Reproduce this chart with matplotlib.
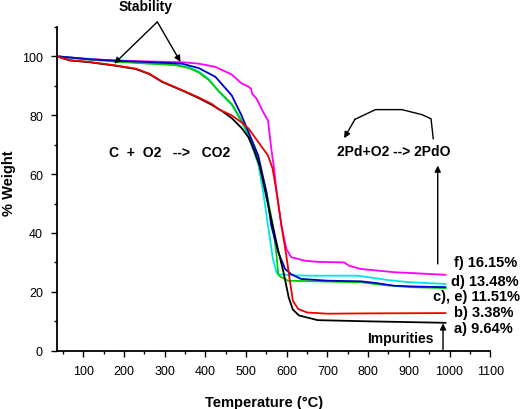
import matplotlib
matplotlib.use("Agg")
import matplotlib.pyplot as plt
from matplotlib.ticker import MultipleLocator

plt.rcParams['font.family'] = ['Liberation Sans', 'DejaVu Sans']

# ---- data ----
t_a = [35, 67, 115, 180, 229, 262, 294, 343, 384, 416, 440, 465, 490, 506, 520, 534, 555, 580, 592, 605, 615, 630, 676, 800, 990]
w_a = [100, 98.6, 98.0, 96.8, 95.7, 94.0, 91.3, 88.4, 85.8, 83.5, 81.5, 79.0, 75.5, 72.5, 68.0, 62.5, 49.0, 33.5, 26.7, 18.0, 14.0, 12.0, 10.4, 10.0, 9.5]

t_b = [35, 67, 115, 180, 229, 262, 294, 343, 384, 416, 433, 464, 490, 506, 530, 554, 565, 575, 587, 599, 607, 615, 628, 650, 700, 800, 990]
w_b = [100, 98.7, 98.1, 96.9, 95.8, 94.1, 91.4, 88.5, 86.0, 83.8, 82.0, 80.0, 77.5, 75.5, 70.9, 66.3, 62.0, 54.0, 42.5, 32.3, 24.4, 17.0, 14.2, 13.0, 12.6, 12.7, 12.8]

t_c = [35, 115, 180, 250, 327, 360, 384, 408, 433, 465, 490, 506, 522, 530, 550, 566, 575, 579, 583, 603, 700, 781, 840, 903, 990]
w_c = [100, 98.9, 98.2, 97.6, 97.0, 96.0, 94.5, 92.0, 88.2, 83.8, 78.0, 73.8, 68.0, 64.5, 54.0, 42.5, 32.3, 26.0, 25.3, 23.8, 23.5, 23.3, 22.3, 21.6, 21.3]

t_d = [35, 115, 180, 250, 327, 360, 384, 408, 433, 465, 490, 506, 522, 530, 542, 554, 566, 575, 580, 620, 660, 773, 800, 850, 900, 990]
w_d = [100, 99.0, 98.3, 97.8, 97.2, 96.3, 94.8, 92.4, 88.0, 83.5, 77.5, 73.0, 66.5, 63.5, 54.0, 42.5, 31.2, 26.5, 26.0, 25.6, 25.5, 25.5, 25.0, 24.0, 23.3, 22.7]

t_e = [35, 115, 180, 250, 343, 384, 425, 465, 489, 506, 530, 550, 562, 579, 596, 611, 635, 700, 781, 820, 863, 920, 990]
w_e = [100, 99.0, 98.5, 98.1, 97.5, 96.0, 93.0, 86.7, 79.9, 74.3, 66.3, 53.9, 42.5, 33.5, 27.8, 26.0, 24.4, 23.8, 23.6, 23.0, 22.1, 21.8, 21.6]

t_f = [35, 115, 180, 250, 343, 384, 425, 465, 489, 505, 512, 515, 526, 542, 554, 562, 569, 575, 587, 599, 611, 644, 676, 741, 753, 781, 863, 990]
w_f = [100, 99.1, 98.6, 98.3, 98.0, 97.5, 96.4, 93.8, 90.8, 89.8, 89.0, 87.3, 85.6, 81.1, 78.2, 68.6, 61.8, 53.9, 42.5, 34.6, 31.8, 30.6, 30.2, 30.0, 28.9, 27.8, 26.7, 25.8]

residue_labels = ['f) 16.15%', 'd) 13.48%', 'c), e) 11.51%', 'b) 3.38%', 'a) 9.64%']

fig = plt.figure(figsize=(5.26, 4.10), dpi=100)
ax = fig.add_axes([0.108, 0.142, 0.824, 0.790])

ax.plot(t_f, w_f, color='#ff00ff', lw=1.3)
ax.plot(t_d, w_d, color='#00e5e5', lw=1.3)
ax.plot(t_c, w_c, color='#00cc00', lw=1.3)
ax.plot(t_e, w_e, color='#0000cc', lw=1.3)
ax.plot(t_a, w_a, color='black', lw=1.3)
ax.plot(t_b, w_b, color='#ee0000', lw=1.3)

ax.set_xlim(35, 1100)
ax.set_ylim(0, 110)
ax.xaxis.set_major_locator(MultipleLocator(100))
ax.xaxis.set_minor_locator(MultipleLocator(50))
ax.yaxis.set_major_locator(MultipleLocator(20))
ax.yaxis.set_minor_locator(MultipleLocator(10))
ax.set_xticks(range(100, 1101, 100))
ax.tick_params(which='major', direction='out', length=4, width=1, labelsize=9, pad=6)
ax.tick_params(which='minor', direction='out', length=2.5, width=1)
for s in ['top', 'right']:
    ax.spines[s].set_visible(False)
for s in ['left', 'bottom']:
    ax.spines[s].set_linewidth(1.3)

ax.set_xlabel('Temperature (°C)', fontsize=10.5, fontweight='bold')
ax.set_ylabel('% Weight', fontsize=10.5, fontweight='bold')
ax.xaxis.set_label_coords(0.479, -0.135)
ax.yaxis.set_label_coords(-0.094, 0.52)

arrow = dict(arrowstyle='-|>', color='black', lw=1.0, mutation_scale=9, shrinkA=0, shrinkB=0)

# Stability
ax.text(254, 117, 'Stability', ha='center', va='center', fontsize=10, fontweight='bold', clip_on=False)
ax.annotate('', xy=(176, 97.5), xytext=(282, 111.7), arrowprops=arrow, annotation_clip=False)
ax.annotate('', xy=(339, 98.1), xytext=(282, 111.7), arrowprops=arrow, annotation_clip=False)

# reactions
ax.text(311, 67.5, 'C  +  O2   -->   CO2', ha='center', va='center', fontsize=10, fontweight='bold')
ax.text(864, 67.8, '2Pd+O2 --> 2PdO', ha='center', va='center', fontsize=10, fontweight='bold')

cx = [960, 954.5, 932, 883, 818, 767.5]
cy = [72.0, 78.8, 80.2, 81.9, 81.9, 78.6]
ax.plot(cx, cy, color='black', lw=1.0, clip_on=False)
ax.annotate('', xy=(741, 72.2), xytext=(767.5, 78.6), arrowprops=arrow, annotation_clip=False)

ax.annotate('', xy=(971, 62.9), xytext=(971, 29.5), arrowprops=arrow, annotation_clip=False)

# impurities
ax.text(879, 4.3, 'Impurities', ha='center', va='center', fontsize=10, fontweight='bold')
ax.annotate('', xy=(984, 9.3), xytext=(984, 0.2), arrowprops=arrow, annotation_clip=False)

# residue labels
lab_x = [1167, 1170, 1172, 1157, 1155]
lab_y = [30.1, 23.8, 18.5, 13.1, 7.7]
for s, x, y in zip(residue_labels, lab_x, lab_y):
    ax.text(x, y, s, ha='right', va='center', fontsize=10.5, fontweight='bold', clip_on=False)

fig.savefig('out.png', dpi=100)
